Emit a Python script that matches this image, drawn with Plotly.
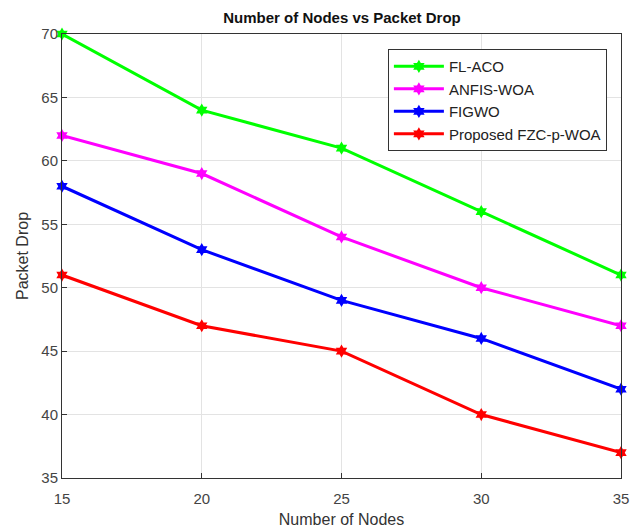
import plotly.graph_objects as go

nodes = [15, 20, 25, 30, 35]
fl_aco = [70, 64, 61, 56, 51]
anfis_woa = [62, 59, 54, 50, 47]
figwo = [58, 53, 49, 46, 42]
proposed = [51, 47, 45, 40, 37]

series = [
    ("FL-ACO", fl_aco, "#00FF00"),
    ("ANFIS-WOA", anfis_woa, "#FF00FF"),
    ("FIGWO", figwo, "#0000FF"),
    ("Proposed FZC-p-WOA", proposed, "#FF0000"),
]

fig = go.Figure()
for name, vals, col in series:
    fig.add_trace(go.Scatter(
        x=nodes, y=vals, name=name, mode="lines+markers",
        line=dict(color=col, width=3),
        marker=dict(symbol="hexagram", size=10, color=col),
        cliponaxis=False,
    ))

font_family = "Liberation Sans, Arial"
axis_common = dict(
    showgrid=True, gridcolor="#E3E3E3", gridwidth=1,
    showline=True, linecolor="#333333", linewidth=1, mirror=True,
    ticks="inside", ticklen=5, tickcolor="#333333",
    tickfont=dict(family=font_family, size=15, color="#444444"),
    zeroline=False, automargin=False,
)

fig.update_layout(
    width=631, height=530,
    margin=dict(l=62, r=10, t=34, b=52),
    paper_bgcolor="white", plot_bgcolor="white",
    title=dict(text="<b>Number of Nodes vs Packet Drop</b>", x=0.542, xanchor="center",
               y=0.966, yanchor="middle",
               font=dict(family=font_family, size=15, color="#111111")),
    xaxis=dict(range=[15, 35], tickvals=[15, 20, 25, 30, 35],
               ticklabelstandoff=7,
               title=dict(text="Number of Nodes", standoff=7,
                          font=dict(family=font_family, size=16, color="#333333")),
               **axis_common),
    yaxis=dict(range=[35, 70], tickvals=[35, 40, 45, 50, 55, 60, 65, 70],
               title=dict(text="Packet Drop", standoff=8,
                          font=dict(family=font_family, size=16, color="#333333")),
               **axis_common),
    legend=dict(x=0.583, y=0.966, xanchor="left", yanchor="top",
                bgcolor="white", bordercolor="#333333", borderwidth=1,
                font=dict(family=font_family, size=15, color="#222222"),
                tracegroupgap=0, itemwidth=50),
    showlegend=True,
)

fig.write_html("out.html", config={"displayModeBar": False},
               post_script="document.body.style.margin='0px';")
